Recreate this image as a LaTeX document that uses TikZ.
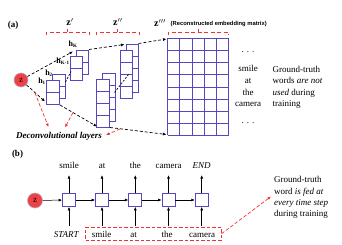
\documentclass[tikz,border=0pt]{standalone}
\usepackage{fontspec}
\setmainfont{Liberation Serif}
\setsansfont{Liberation Sans}
\usetikzlibrary{arrows.meta,fit}
\definecolor{boxblue}{RGB}{88,70,190}
\definecolor{dred}{RGB}{240,50,50}
\definecolor{zred}{RGB}{238,64,72}
\newcommand\cellstack[3]{%
  \draw[cellbox, fill=white] (#1,#2) rectangle ++(12.5,12*#3);
  \pgfmathtruncatemacro\cellm{#3-1}%
  \foreach \k in {1,...,\cellm}{\draw[cellbox] (#1,#2+12*\k) -- ++(12.5,0);}%
}
\newcommand\cellpair[3]{\cellstack{#1+6}{#2-6}{#3}\cellstack{#1}{#2}{#3}}
\begin{document}
\begin{tikzpicture}[x=1pt,y=-1pt,
  every node/.style={font=\fontsize{9}{11}\selectfont, inner sep=0pt},
  cellbox/.style={draw=boxblue, line width=0.75pt},
  blkarrow/.style={draw=black, line width=0.7pt, dash pattern=on 3pt off 2pt, -{Latex[length=3.5pt,width=3pt]}},
  blkdash/.style={draw=black, line width=0.7pt, dash pattern=on 2pt off 1.5pt},
  redarrow/.style={draw=dred, line width=0.7pt, dash pattern=on 3.5pt off 2pt, -{Latex[length=3.5pt,width=3pt]}},
  redbrace/.style={draw=dred, line width=0.7pt, dash pattern=on 4pt off 2.5pt},
  zcircle/.style={circle, fill=zred, draw=gray!60, line width=0.6pt, minimum size=14pt},
  rnnbox/.style={draw=boxblue, line width=0.9pt, minimum size=13pt, fill=white},
  solidarrow/.style={draw=black, line width=0.5pt, -{Latex[length=3.5pt,width=3pt]}},
  txt/.style={anchor=base west},
  word/.style={anchor=base, text height=6.5pt, text depth=0pt},
  hlab/.style={font=\fontsize{8}{9}\selectfont\bfseries}
]
\useasboundingbox (0,0) rectangle (342,245);

% ---------- (a) ----------
\node[font=\fontsize{9}{11}\selectfont\bfseries] (la) at (13,25) {(a)};
\node[font=\fontsize{10}{12}\selectfont] (zp) at (70,22) {\textbf{z}$^{\prime}$};
\node[font=\fontsize{10}{12}\selectfont] (zpp) at (118,22) {\textbf{z}$^{\prime\prime}$};
\node[font=\fontsize{10}{12}\selectfont] (zppp) at (160,23) {\textbf{z}$^{\prime\prime\prime}$};
\node[font=\sffamily\bfseries\fontsize{5.8}{7}\selectfont, anchor=west] (rec) at (170.5,24) {(Reconstructed embedding matrix)};

% braces
\draw[redbrace] (46,35.5) -- (46,32.5) -- (89,32.5) -- (89,35.5);
\draw[redbrace] (67.5,32.5) -- (67.5,29.5);
\draw[redbrace] (96,35.5) -- (96,32.5) -- (139,32.5) -- (139,35.5);
\draw[redbrace] (117.5,32.5) -- (117.5,29.5);
\draw[redbrace] (168,35.5) -- (168,32.5) -- (228.5,32.5) -- (228.5,35.5);
\draw[redbrace] (198,32.5) -- (198,29.5);

% z' stacks
\cellpair{46.7}{80}{2}
\cellpair{70}{56.5}{2}
% z'' stacks
\cellpair{96.7}{79.3}{4}
\cellpair{120}{50}{4}
% z''' grid
\foreach \i in {0,...,5} \draw[cellbox] ({167.5+12.2*\i},38.5) -- ({167.5+12.2*\i},135.3);
\foreach \j in {0,...,8} \draw[cellbox] (167.5,{38.5+12.1*\j}) -- (228.5,{38.5+12.1*\j});

% h labels
\node[hlab] (hK) at (73,44) {h\textsubscript{\fontsize{5}{6}\selectfont K}};
\node[hlab] (hK1) at (63,61.5) {h\textsubscript{\fontsize{5}{6}\selectfont K-1}};
\node[hlab] (h2) at (49,73) {h\textsubscript{\fontsize{5}{6}\selectfont 2}};
\node[hlab] (h1) at (42,81) {h\textsubscript{\fontsize{5}{6}\selectfont 1}};

% z circle
\node[zcircle] (za) at (21,80) {z};

% dashed connectors
\coordinate (hKtip) at (73,51.5);
\coordinate (h1tip) at (45,101.5);
\coordinate (g1br) at (60,105);
\coordinate (z2bl) at (97,126.5);
\coordinate (g2tr) at (89,49.5);
\coordinate (z2tl) at (124.5,44.5);
\coordinate (z2br) at (110,127.5);
\coordinate (z3bl) at (166.5,134.5);
\coordinate (z2tr) at (138.5,43.5);
\coordinate (z3tl) at (166.5,39);
\coordinate (c1a) at (65.5,82);
\coordinate (c1b) at (71,71.5);
\coordinate (c2a) at (114.5,92.5);
\coordinate (c2b) at (128.5,74.5);
\draw[blkarrow] (za) -- (hKtip);
\draw[blkarrow] (za) -- (h1tip);
\draw[blkarrow] (g1br) -- (z2bl);
\draw[blkarrow] (g2tr) -- (z2tl);
\draw[blkarrow] (z2br) -- (z3bl);
\draw[blkarrow] (z2tr) -- (z3tl);
\draw[blkdash] (c1a) -- (c1b);
\draw[blkdash] (c2a) -- (c2b);

% deconvolutional layers
\node[font=\bfseries\itshape\fontsize{9}{11}\selectfont, anchor=base] (dec) at (59,139) {Deconvolutional layers};
\coordinate (r1a) at (35,93);
\coordinate (r1b) at (48.5,127);
\coordinate (r2a) at (73,112.5);
\coordinate (r2b) at (65,127.5);
\coordinate (r3a) at (120,129);
\coordinate (r3b) at (106,135);
\draw[redarrow] (r1a) -- (r1b);
\draw[redarrow] (r2a) -- (r2b);
\draw[redarrow] (r3a) -- (r3b);

% words (a)
\node[word] (ad1) at (248,53) {. . .};
\node[word] (aw1) at (248,72) {smile};
\node[word] (aw2) at (248,83.7) {at};
\node[word] (aw3) at (248,95.4) {the};
\node[word] (aw4) at (248,107) {camera};
\node[word] (ad2) at (248,124) {. . .};

\node[txt] (at1) at (272.5,72.3) {Ground-truth};
\node[txt] (at2) at (272.5,83.7) {words \textit{are not}};
\node[txt] (at3) at (272.5,95.1) {\textit{used} during};
\node[txt] (at4) at (272.5,106.5) {training};

% ---------- (b) ----------
\node[font=\fontsize{9}{11}\selectfont\bfseries] (lb) at (17.5,154) {(b)};
\node[zcircle, minimum size=15pt] (zb) at (35,200.5) {z};
\node[rnnbox] (b1) at (69,200) {};
\node[rnnbox] (b2) at (102,200) {};
\node[rnnbox] (b3) at (135.3,200) {};
\node[rnnbox] (b4) at (168.5,200) {};
\node[rnnbox] (b5) at (201.7,200) {};

\node[word] (w1) at (69,169) {smile};
\node[word] (w2) at (102,169) {at};
\node[word] (w3) at (135.3,169) {the};
\node[word] (w4) at (168.5,169) {camera};
\node[word] (w5) at (201.7,169) {\textit{END}};

\node[word] (s1) at (66.5,237) {\textit{START}};
\node[word] (s2) at (101.7,237) {smile};
\node[word] (s3) at (133.7,237) {at};
\node[word] (s4) at (167,237) {the};
\node[word] (s5) at (202,237) {camera};

\draw[solidarrow] (zb) -- (b1);
\draw[solidarrow] (b1) -- (b2);
\draw[solidarrow] (b2) -- (b3);
\draw[solidarrow] (b3) -- (b4);
\draw[solidarrow] (b4) -- (b5);
\foreach \n in {1,...,5}{
  \draw[solidarrow, shorten >=6pt] (b\n) -- (w\n);
  \draw[solidarrow, shorten <=4.5pt] (s\n.north -| b\n) -- (b\n);
}

\node[fit=(s2)(s5), draw=dred, line width=0.7pt, dash pattern=on 3.5pt off 2pt, inner xsep=6pt, inner ysep=3pt] (gtbox) {};
\coordinate (gttip) at (271,196.5);
\draw[redarrow] (gtbox.east) -- (gttip);

\node[txt] (bt1) at (274,183) {Ground-truth};
\node[txt] (bt2) at (274,194.5) {word \textit{is fed at}};
\node[txt] (bt3) at (274,205.5) {\textit{every time step}};
\node[txt] (bt4) at (274,216.5) {during training};
\end{tikzpicture}
\end{document}
